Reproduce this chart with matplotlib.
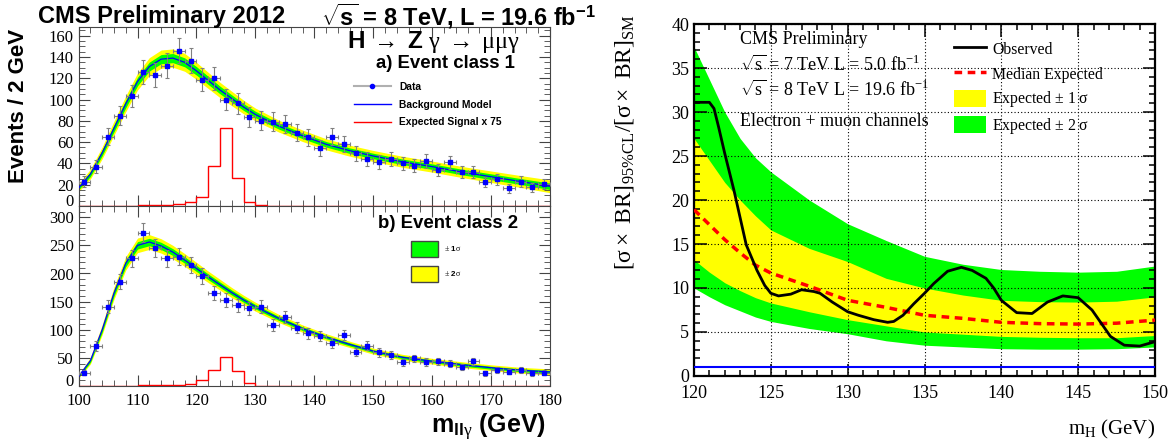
import numpy as np
import matplotlib
matplotlib.use('Agg')
import matplotlib.pyplot as plt
from matplotlib.lines import Line2D
from matplotlib.patches import Patch
from matplotlib.ticker import MultipleLocator, FuncFormatter

plt.rcParams['font.family'] = 'Liberation Serif'
plt.rcParams['mathtext.fontset'] = 'custom'
plt.rcParams['mathtext.rm'] = 'Liberation Serif'
plt.rcParams['mathtext.it'] = 'Liberation Serif:italic'
plt.rcParams['mathtext.bf'] = 'Liberation Sans:bold'
plt.rcParams['mathtext.sf'] = 'Liberation Sans'

W, H = 1176, 443
SANS = 'Liberation Sans'

# ---------------- m_llg spectra, 2 GeV bins ----------------
bin_edges = np.arange(100, 182, 2)
bin_centres = bin_edges[:-1] + 1

data_c1 = [23, 37, 65, 85, 103.5, 126, 123, 132, 146, 136.5,
           118.6, 120, 100, 96.6, 83.5, 80, 79, 77, 69, 64.6,
           54.6, 65, 58, 49.6, 44, 41.4, 44, 40, 38, 42,
           34, 41, 32, 32, 22.6, 25, 16.6, 23, 17.6, 21]
data_c2 = [24, 71, 141, 185.6, 227, 272.7, 245, 227, 230, 215,
           196, 165, 153, 143.5, 138, 141, 108.5, 123, 104, 93.6,
           89, 76, 90.7, 60.5, 71.7, 60, 55, 42, 49, 43,
           44, 40, 34, 44, 22.5, 28.5, 25.5, 28.5, 22.5, 23.7]

# background fit and its 1 sigma half width
bkg_x = [100, 102, 104, 106, 108, 110, 112, 114, 116, 118, 120, 122, 124, 126,
         128, 130, 134, 138, 142, 146, 150, 155, 160, 165, 170, 175, 180]
bkg_c1 = [17, 30, 50, 73, 96, 117, 131, 138, 139, 135, 127, 118, 109, 101,
          93, 86, 75, 66, 58, 52, 47, 41.5, 37, 32, 27.5, 23, 18.5]
err_c1 = [1.8, 2.3, 2.8, 3.3, 3.7, 4.0, 4.2, 4.3, 4.3, 4.2, 4.0, 3.8, 3.6, 3.4,
          3.2, 3.0, 2.8, 2.7, 2.6, 2.6, 2.6, 2.6, 2.6, 2.6, 2.7, 2.8, 3.0]
bkg_c2 = [17, 45, 100, 165, 218, 250, 256, 249, 238, 224, 209, 194, 180, 166,
          153, 141, 120, 102, 87, 74, 62, 51, 44, 38, 32.5, 28, 25]
err_c2 = [1.5, 3.0, 4.5, 5.5, 6.0, 6.5, 6.6, 6.4, 6.0, 5.7, 5.4, 5.1, 4.8, 4.5,
          4.2, 4.0, 3.6, 3.3, 3.0, 2.8, 2.7, 2.6, 2.6, 2.6, 2.6, 2.6, 2.7]

# expected signal x 75, per bin
signal_c1 = [0.2, 0.2, 0.3, 0.3, 0.4, 0.8, 1.0, 1.2, 1.9, 4.0,
             8.8, 38, 73, 26.7, 3.8, 0.6, 0.4, 0.3, 0.2, 0.2,
             0.1, 0.1, 0.1, 0.1, 0.1, 0.1, 0.1, 0.1, 0.1, 0.1,
             0.1, 0.1, 0.1, 0.1, 0.1, 0.1, 0.1, 0.1, 0.1, 0.1]
signal_c2 = [0.2, 0.3, 0.4, 0.5, 0.7, 1.0, 1.3, 1.6, 2.0, 3.5,
             10.7, 28.5, 51, 27.3, 6.0, 0.6, 0.5, 0.4, 0.3, 0.2,
             0.1, 0.1, 0.1, 0.1, 0.1, 0.1, 0.1, 0.1, 0.1, 0.1,
             0.1, 0.1, 0.1, 0.1, 0.1, 0.1, 0.1, 0.1, 0.1, 0.1]

# ---------------- limit vs m_H ----------------
band_x = [120, 121, 122, 123, 124, 125, 127.5, 130, 132.5, 135, 137.5, 140,
          142.5, 145, 147.5, 150]
green_up = [37.4, 33.7, 30.0, 27.0, 24.8, 23.2, 20.0, 17.3, 15.4, 13.6, 12.7,
            12.1, 11.9, 11.8, 11.9, 12.5]
yellow_up = [27.0, 24.5, 22.0, 20.0, 18.2, 16.6, 14.5, 13.0, 11.1, 10.0, 9.2,
             8.6, 8.45, 8.4, 8.5, 9.0]
median_exp = [18.9, 17.2, 15.5, 14.0, 12.6, 11.7, 10.2, 8.6, 7.8, 6.9, 6.55,
              6.1, 5.95, 5.9, 6.0, 6.35]
yellow_lo = [13.2, 11.8, 10.6, 9.7, 8.9, 8.3, 7.3, 6.4, 5.7, 5.0, 4.75, 4.5,
             4.4, 4.35, 4.35, 4.6]
green_lo = [10.0, 9.0, 8.1, 7.4, 6.7, 6.2, 5.4, 4.8, 4.0, 3.5, 3.3, 3.1, 3.05,
            3.05, 3.1, 3.3]

obs_x = [120.0, 121.0, 121.3, 121.6, 122.0, 122.6, 123.4, 124.1, 124.6, 125.0,
         125.5, 126.3, 127.0, 127.8, 128.2, 129.0, 130.0, 130.7, 131.7, 132.6,
         133.0, 133.6, 134.3, 135.0, 135.6, 136.5, 137.4, 138.1, 139.0, 139.5,
         140.0, 141.0, 142.0, 143.0, 144.0, 145.0, 145.9, 147.1, 148.0, 149.0,
         150.0]
obs_y = [31.1, 31.1, 30.4, 28.3, 25.3, 21.1, 14.9, 12.0, 10.3, 9.4,
         9.1, 9.3, 9.8, 9.6, 9.4, 8.4, 7.3, 6.9, 6.4, 6.1,
         6.2, 6.9, 8.2, 9.4, 10.5, 11.9, 12.35, 12.0, 11.1, 10.0,
         8.6, 7.2, 7.1, 8.4, 9.1, 8.9, 7.5, 4.5, 3.5, 3.4,
         3.9]
sm_ratio = 1.0

fig = plt.figure(figsize=(W / 100, H / 100), dpi=100)


def box(x0, y0, x1, y1):
    return [x0 / W, 1 - y1 / H, (x1 - x0) / W, (y1 - y0) / H]


def px(x, y):
    return x / W, 1 - y / H


def raised_zero(ax):
    # the "0" label sits a bit higher so it clears the labels next to it
    ax.yaxis.set_major_formatter(FuncFormatter(
        lambda v, pos: '' if v == 0 else '%g' % v))
    ax.annotate('0', xy=(0, 0), xycoords=('axes fraction', 'data'),
                xytext=(-3.5, 3), textcoords='offset points', ha='right',
                va='center', size=12)


def draw_class(ax, data, bkg, err, signal, ymax):
    b = np.array(bkg)
    e = np.array(err)
    ax.fill_between(bkg_x, b - 2 * e, b + 2 * e, color='#ffff00', lw=0)
    ax.fill_between(bkg_x, b - e, b + e, color='#00ff00', lw=0)
    ax.plot(bkg_x, b, color='#0000ff', lw=0.9, zorder=3)
    ax.stairs(signal, bin_edges, color='#ff0000', lw=1.0, zorder=3)
    d = np.array(data)
    ax.errorbar(bin_centres, d, xerr=1, yerr=np.sqrt(d), fmt='s', ms=2.2,
                mfc='#0000ff', mec='#0000ff', ecolor='#808080', elinewidth=0.8,
                capsize=1.2, capthick=0.8, zorder=4)
    ax.set_xlim(100, 180)
    ax.set_ylim(0, ymax)
    ax.xaxis.set_major_locator(MultipleLocator(10))
    ax.xaxis.set_minor_locator(MultipleLocator(2))
    ax.tick_params(which='both', direction='in', top=True, right=True,
                   labelsize=12, color='#444444')
    ax.tick_params(which='major', length=8)
    ax.tick_params(which='minor', length=4)
    ax.tick_params(axis='x', pad=5)
    for s in ax.spines.values():
        s.set_linewidth(0.8)
        s.set_color('#444444')
    raised_zero(ax)


ax1 = fig.add_axes(box(78.6, 26.7, 550, 206))
draw_class(ax1, data_c1, bkg_c1, err_c1, signal_c1, 168.5)
ax1.yaxis.set_major_locator(MultipleLocator(20))
ax1.yaxis.set_minor_locator(MultipleLocator(5))
ax1.tick_params(labelbottom=False)

ax2 = fig.add_axes(box(78.6, 206, 550, 386))
draw_class(ax2, data_c2, bkg_c2, err_c2, signal_c2, 320)
ax2.yaxis.set_major_locator(MultipleLocator(50))
ax2.yaxis.set_minor_locator(MultipleLocator(10))

small = dict(family=SANS, weight='bold', size=7.4)
h1 = [Line2D([], [], color='#b0b0b0', lw=1.5, marker='o', ms=3,
             mfc='#0000ff', mec='#0000ff'),
      Line2D([], [], color='#0000ff', lw=1.0),
      Line2D([], [], color='#ff0000', lw=1.0)]
ax1.legend(h1, ['Data', 'Background Model', 'Expected Signal x 75'],
           loc='upper left', bbox_to_anchor=(0.584, 0.692), frameon=False,
           prop=small, handlelength=3.6, handletextpad=0.8, labelspacing=0.75,
           borderpad=0, borderaxespad=0)

h2 = [Patch(facecolor='#00ff00', edgecolor='#444444', lw=1),
      Patch(facecolor='#ffff00', edgecolor='#444444', lw=1)]
ax2.legend(h2, [r'$\pm$ 1$\mathrm{\sigma}$', r'$\pm$ 2$\mathrm{\sigma}$'],
           loc='upper left', bbox_to_anchor=(0.705, 0.806), frameon=False,
           prop=dict(family=SANS, weight='bold', size=5.8), handlelength=3.3,
           handleheight=2.6, handletextpad=0.8, labelspacing=1.2,
           borderpad=0, borderaxespad=0)

fig.text(*px(37.5, 16), 'CMS Preliminary 2012', family=SANS, weight='bold',
         size=17, ha='left', va='center')
fig.text(*px(321, 16), r'$\sqrt{\mathbf{s}}$ = 8 TeV, L = 19.6 fb$^{\mathbf{-1}}$',
         family=SANS, weight='bold', size=17, ha='left', va='center')
fig.text(*px(19, 106), 'Events / 2 GeV', family=SANS, weight='bold', size=16,
         rotation=90, ha='center', va='center')
fig.text(*px(346.7, 42), r'$\mathbf{H}\ \rightarrow\ \mathbf{Z}\ \mathrm{\gamma}'
         r'\ \rightarrow\ \mathrm{\mu\mu\gamma}$', size=17.5, ha='left',
         va='center')
fig.text(*px(376, 63.5), 'a) Event class 1', family=SANS, weight='bold',
         size=13.4, ha='left', va='center')
fig.text(*px(377.7, 224), 'b) Event class 2', family=SANS, weight='bold',
         size=13.4, ha='left', va='center')
fig.text(*px(546, 427), r'm$_{\mathbf{ll}\mathrm{\gamma}}$ (GeV)', family=SANS,
         weight='bold', size=18, ha='right', va='center')

# ---------------- limit panel ----------------
ax3 = fig.add_axes(box(694, 24, 1155, 376))
ax3.fill_between(band_x, green_lo, green_up, color='#00ff00', lw=0, zorder=1)
ax3.fill_between(band_x, yellow_lo, yellow_up, color='#ffff00', lw=0, zorder=1)
ax3.plot(band_x, median_exp, color='#ff0000', lw=2.5, ls=(0, (2.2, 1.6)),
         zorder=4)
ax3.plot(obs_x, obs_y, color='black', lw=2.0, zorder=4)
ax3.axhline(sm_ratio, color='#0000ff', lw=1.5, zorder=4)
ax3.set_xlim(120, 150)
ax3.set_ylim(0, 40)
ax3.set_axisbelow(False)
ax3.grid(True, which='major', color='black', lw=0.8, ls=(0, (1, 2)))
ax3.xaxis.set_major_locator(MultipleLocator(5))
ax3.xaxis.set_minor_locator(MultipleLocator(1))
ax3.yaxis.set_major_locator(MultipleLocator(5))
ax3.yaxis.set_minor_locator(MultipleLocator(1))
ax3.tick_params(which='both', direction='in', top=True, right=True,
                labelsize=13, width=1.1)
ax3.tick_params(which='major', length=9)
ax3.tick_params(which='minor', length=4.5)
ax3.tick_params(axis='x', pad=6.5)
for s in ax3.spines.values():
    s.set_linewidth(1.6)

ax3.set_ylabel(r'$[\mathrm{\sigma}\times\ \mathrm{BR}]_{95\%\mathrm{CL}}'
               r'/[\mathrm{\sigma}\times\ \mathrm{BR}]_{\mathrm{SM}}$', size=17)
ax3.yaxis.set_label_coords(-0.126, 0.665)
ax3.set_xlabel(r'm$_{\mathrm{H}}$ (GeV)', size=15)
ax3.xaxis.set_label_coords(1.0, -0.12)
ax3.xaxis.label.set_horizontalalignment('right')

h3 = [Line2D([], [], color='black', lw=2.0),
      Line2D([], [], color='#ff0000', lw=2.5, ls=(0, (2.2, 1.6))),
      Patch(facecolor='#ffff00', lw=0),
      Patch(facecolor='#00ff00', lw=0)]
ax3.legend(h3, ['Observed', 'Median Expected', r'Expected $\pm$ 1 $\mathrm{\sigma}$',
                r'Expected $\pm$ 2 $\mathrm{\sigma}$'],
           loc='upper left', bbox_to_anchor=(0.564, 0.953), frameon=False,
           fontsize=11.3, handlelength=2.05, handleheight=1.27,
           handletextpad=0.4, labelspacing=0.43, borderpad=0, borderaxespad=0)

for y, s in [(40, 'CMS Preliminary'),
             (65, r'$\sqrt{\mathrm{s}}$ = 7 TeV L = 5.0 fb$^{\mathrm{-1}}$'),
             (90, r'$\sqrt{\mathrm{s}}$ = 8 TeV L = 19.6 fb$^{\mathrm{-1}}$'),
             (122, 'Electron + muon channels')]:
    fig.text(*px(739.5, y), s, size=13, ha='left', va='center')

fig.savefig('out.png', dpi=100)
